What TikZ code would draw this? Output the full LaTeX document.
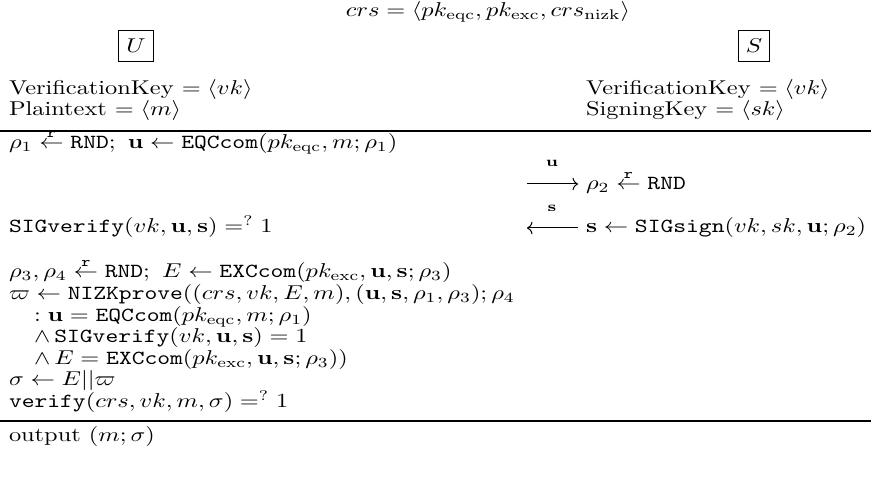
\documentclass[tikz,border=0pt]{standalone}
\usepackage{amsmath}
\usepackage{graphicx}
\usetikzlibrary{arrows.meta}
\newcommand{\rnd}{\stackrel{\mathtt{r}}{\leftarrow}}
\newcommand{\sq}[1]{\scalebox{0.975}[0.8]{#1}}
\begin{document}
\begin{tikzpicture}[x=0.4pt,y=-0.4pt,
  txt/.style={anchor=base west, inner sep=0pt, outer sep=0pt},
  ctr/.style={anchor=base, inner sep=0pt, outer sep=0pt},
  party/.style={draw, line width=0.4pt, inner xsep=3pt, inner ysep=3.5pt},
  rulel/.style={line width=0.5pt},
  msg/.style={line width=0.4pt, -{Computer Modern Rightarrow[length=2.2pt,width=5pt]}}]
\useasboundingbox (0,0) rectangle (871,504);
% header
\node[ctr] (crs) at (488,17) {\sq{$crs = \langle pk_{\mathrm{eqc}}, pk_{\mathrm{exc}}, crs_{\mathrm{nizk}}\rangle$}};
\node[party] (U) at (136,46) {\sq{$U$}};
\node[party] (S) at (754,46) {\sq{$S$}};
\node[txt] (vkU) at (9,95) {\sq{VerificationKey $= \langle vk\rangle$}};
\node[txt] (ptU) at (9,116) {\sq{Plaintext $= \langle m\rangle$}};
\node[txt] (vkS) at (586,95) {\sq{VerificationKey $= \langle vk\rangle$}};
\node[txt] (skS) at (586,116) {\sq{SigningKey $= \langle sk\rangle$}};
\coordinate (r1a) at (0,131);
\coordinate (r1b) at (871,131);
\draw[rulel] (r1a) -- (r1b);
% protocol
\node[txt] (l1) at (9,149) {\sq{$\rho_1 \rnd \mathtt{RND};\ \mathbf{u} \leftarrow \mathtt{EQCcom}(pk_{\mathrm{eqc}}, m; \rho_1)$}};
\node[ctr] (ulab) at (552,167) {\sq{$\scriptstyle\mathbf{u}$}};
\coordinate (ua) at (527,184);
\coordinate (ub) at (578,184);
\draw[msg] (ua) -- (ub);
\node[txt] (r2) at (586,190) {\sq{$\rho_2 \rnd \mathtt{RND}$}};
\node[ctr] (slab) at (552,212) {\sq{$\scriptstyle\mathbf{s}$}};
\coordinate (sa) at (578,228);
\coordinate (sb) at (527,228);
\draw[msg] (sa) -- (sb);
\node[txt] (l2) at (9,233) {\sq{$\mathtt{SIGverify}(vk, \mathbf{u}, \mathbf{s}) =^{?} 1$}};
\node[txt] (r3) at (586,233) {\sq{$\mathbf{s} \leftarrow \mathtt{SIGsign}(vk, sk, \mathbf{u}; \rho_2)$}};
\node[txt] (l3) at (9,278) {\sq{$\rho_3, \rho_4 \rnd \mathtt{RND};\ E \leftarrow \mathtt{EXCcom}(pk_{\mathrm{exc}}, \mathbf{u}, \mathbf{s}; \rho_3)$}};
\node[txt] (l4) at (9,300) {\sq{$\varpi \leftarrow \mathtt{NIZKprove}((crs, vk, E, m), (\mathbf{u}, \mathbf{s}, \rho_1, \rho_3); \rho_4$}};
\node[txt] (l5) at (34,322) {\sq{$: \mathbf{u} = \mathtt{EQCcom}(pk_{\mathrm{eqc}}, m; \rho_1)$}};
\node[txt] (l6) at (34,343) {\sq{$\wedge\, \mathtt{SIGverify}(vk, \mathbf{u}, \mathbf{s}) = 1$}};
\node[txt] (l7) at (34,365) {\sq{$\wedge\, E = \mathtt{EXCcom}(pk_{\mathrm{exc}}, \mathbf{u}, \mathbf{s}; \rho_3))$}};
\node[txt] (l8) at (9,386) {\sq{$\sigma \leftarrow E || \varpi$}};
\node[txt] (l9) at (9,408) {\sq{$\mathtt{verify}(crs, vk, m, \sigma) =^{?} 1$}};
\coordinate (r2a) at (0,421);
\coordinate (r2b) at (871,421);
\draw[rulel] (r2a) -- (r2b);
\node[txt] (out) at (9,442) {\sq{output $(m; \sigma)$}};
\end{tikzpicture}
\end{document}
